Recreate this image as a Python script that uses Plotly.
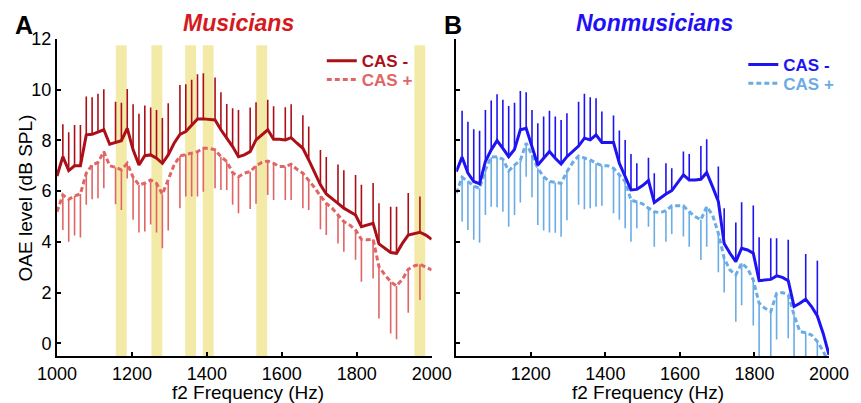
import numpy as np
import plotly.graph_objects as go

# ---------------- data ----------------
freq = np.linspace(1000, 2000, 65)          # f2 frequency grid (Hz)
x_ticks = [1000, 1200, 1400, 1600, 1800, 2000]
x_labels_a = ["1000", "1200", "1400", "1600", "1800", "2000"]
x_labels_b = ["", "1200", "1400", "1600", "1800", "2000"]
y_ticks = [0, 2, 4, 6, 8, 10, 12]

# Musicians, CAS - (mean) and upper end of its error bar
mus_minus = [6.6, 7.36, 6.81, 7.0, 7.0, 8.22, 8.24, 8.34, 8.42, 7.85, 7.92, 7.99, 8.48, 7.63, 7.03, 7.40,
             7.43, 7.30, 7.10, 7.43, 7.89, 8.24, 8.35, 8.61, 8.85, 8.85, 8.84, 8.81, 8.42, 8.09, 7.76, 7.36,
             7.43, 7.56, 8.02, 8.22, 8.42, 8.05, 8.05, 8.02, 8.11, 7.89, 7.69, 7.23, 6.71, 6.25, 5.89, 5.72,
             5.52, 5.33, 5.19, 5.06, 4.60, 4.67, 4.73, 3.92, 3.75, 3.58, 3.55, 3.94, 4.27, 4.34, 4.38, 4.27,
             4.10]
mus_minus_top = [None, 8.64, 8.32, 8.61, 8.61, 9.73, 9.70, 9.84, 10.02, None, 9.53, 9.49, 10.03, 9.43, 9.05, 9.38,
                 9.30, 9.20, 8.88, 9.47, None, 10.19, 10.22, 10.39, 10.61, 10.65, None, 10.48, 9.90, 9.44, 9.27, 9.20,
                 None, 9.30, 9.51, None, 9.60, 9.35, None, 9.31, 9.43, None, 8.99, 8.55, None, 7.62, 7.35, None,
                 7.05, 6.82, None, 6.64, 6.25, None, 6.32, 5.52, None, 5.39, 5.39, None, 5.93, None, 5.79, None,
                 None]

# Musicians, CAS + (mean) and lower end of its error bar
mus_plus = [5.19, 5.85, 5.68, 5.81, 5.89, 6.71, 7.03, 7.13, 7.56, 7.0, 6.94, 6.84, 7.1, 6.55, 6.25, 6.31,
            6.44, 6.31, 5.88, 6.44, 7.03, 7.39, 7.46, 7.50, 7.56, 7.69, 7.69, 7.63, 7.36, 7.17, 6.73, 6.57,
            6.71, 6.77, 7.0, 7.13, 7.19, 7.10, 6.97, 6.97, 7.06, 6.86, 6.71, 6.44, 6.14, 5.81, 5.52, 5.33,
            5.06, 4.80, 4.67, 4.47, 4.10, 4.08, 4.10, 3.02, 2.70, 2.43, 2.26, 2.52, 2.92, 3.05, 3.12, 3.02,
            2.89]
mus_plus_bot = [None, 4.47, 4.01, 4.25, 4.17, 5.46, 5.68, 5.72, 6.11, None, 5.48, 5.26, 6.5, 4.87, 4.37, 4.41,
                4.69, 4.37, 3.75, 4.45, None, 5.33, 5.79, 5.79, 5.79, 5.98, None, 6.11, 6.05, 6.05, 5.46, 5.13,
                None, 5.3, 5.5, None, 5.85, 5.65, None, 5.65, 5.65, None, 5.33, 5.26, None, 4.5, 4.27, None,
                3.94, 3.61, None, 3.3, 2.43, None, 2.56, 0.98, None, 0.39, 0.16, None, 1.21, None, 1.71, None,
                None]

# Nonmusicians, CAS - (mean) and upper end of its error bar
non_minus = [6.77, 7.34, 6.71, 6.38, 6.29, 7.17, 7.63, 7.99, 7.69, 7.36, 7.65, 8.42, 8.48, 7.76, 7.03, 7.30,
             7.56, 7.30, 7.07, 7.36, 7.59, 7.78, 8.09, 8.02, 8.22, 7.92, 7.92, 7.92, 7.1, 6.57, 6.05, 6.07,
             6.22, 6.42, 5.55, 5.72, 5.89, 6.02, 6.34, 6.64, 6.44, 6.44, 6.47, 6.73, 6.18, 5.59, 3.94, 3.55,
             3.22, 3.75, 3.68, 3.55, 2.47, 2.50, 2.52, 2.66, 2.60, 2.47, 1.45, 1.58, 1.74, 1.45, 1.08, 0.39,
             -0.45]
non_minus_top = [None, 9.17, 8.74, 8.44, 8.38, 9.20, 9.57, 9.82, 9.60, 9.36, 9.49, 9.95, 9.90, 9.20, 8.68, 8.94,
                 9.17, 8.94, 8.81, 9.07, None, 9.53, 9.84, 9.70, 9.66, 9.14, None, 8.98, 8.39, 8.02, 7.47, 7.10,
                 None, 7.32, 6.71, None, 7.10, 6.90, None, 7.56, 7.47, None, 7.78, 8.05, None, 6.97, 5.33, None,
                 4.76, 5.56, None, 5.43, 4.18, None, 4.14, 4.14, None, 4.08, None, None, 3.52, None, 3.26, None,
                 None]

# Nonmusicians, CAS + (mean) and lower end of its error bar
non_plus = [5.92, 6.55, 6.38, 6.21, 6.11, 6.84, 7.34, 7.36, 7.26, 6.80, 7.03, 7.21, 7.89, 7.43, 6.90, 6.57,
            6.38, 6.34, 6.31, 6.77, 7.13, 7.39, 7.30, 7.23, 7.10, 7.01, 7.0, 6.90, 6.64, 6.38, 5.65, 5.59,
            5.50, 5.33, 5.19, 5.15, 5.23, 5.42, 5.43, 5.42, 5.19, 5.0, 4.87, 5.39, 5.06, 4.34, 3.35, 2.89,
            2.70, 3.16, 2.96, 2.50, 1.58, 1.38, 1.25, 1.97, 2.0, 1.91, 1.12, 0.46, 0.42, 0.33, 0.07, -0.30,
            -0.8]
non_plus_bot = [None, 4.80, 4.47, 4.08, 3.97, 5.06, 5.39, 5.37, 5.19, 4.60, 5.06, 5.55, 6.57, 5.76, 4.67, 4.45,
                4.37, 4.36, 4.2, 4.85, None, 5.46, 5.29, 5.33, 5.39, 5.42, None, 5.13, 4.87, 4.54, 4.01, 4.54,
                None, 4.60, 3.81, None, 4.01, 4.31, None, 4.21, 3.81, None, 3.29, 3.81, None, 2.8, 2.0, None,
                0.85, 1.5, None, 0.7, -0.6, None, -0.6, 0.15, None, 0.2, -0.6, None, -0.6, None, -0.6, None,
                None]

# highlighted frequency bands in panel A (Hz)
band_lo = [1157, 1252, 1342, 1389, 1532, 1954]
band_hi = [1186, 1281, 1371, 1418, 1561, 1983]
band_top = 11.75

# ---------------- style ----------------
FONT = "Liberation Sans, Arial, sans-serif"
C_MUS_MINUS = "#ab1018"
C_MUS_PLUS = "#e06666"
C_NON_MINUS = "#1e14f2"
C_NON_PLUS = "#6aace6"
C_BAND = "#f4eaa8"
C_MUS_TITLE = "#d41a20"
C_NON_TITLE = "#1f10f5"
DASH = "5px,3px"

Y_MIN, Y_MAX = -0.5, 12


def up_err(top, mean):
    return [np.nan if t is None else t - m for t, m in zip(top, mean)]


def down_err(bot, mean):
    return [np.nan if b is None else m - b for b, m in zip(bot, mean)]


def zeros(n):
    return [0] * n


fig = go.Figure()

N = len(freq)


def add(xa, ya, mean, err_plus, err_minus, color, dash, name, legend):
    fig.add_trace(go.Scatter(
        x=freq, y=mean, mode="lines", name=name, legend=legend,
        xaxis=xa, yaxis=ya,
        line=dict(color=color, width=3, dash=dash),
        error_y=dict(type="data", symmetric=False, array=err_plus, arrayminus=err_minus,
                     color=color, thickness=1.6, width=0),
        showlegend=True,
    ))


add("x", "y", mus_plus, zeros(N), down_err(mus_plus_bot, mus_plus), C_MUS_PLUS, DASH, "CAS +", "legend2")
add("x", "y", mus_minus, up_err(mus_minus_top, mus_minus), zeros(N), C_MUS_MINUS, "solid", "CAS -", "legend")
add("x2", "y2", non_plus, zeros(N), down_err(non_plus_bot, non_plus), C_NON_PLUS, DASH, "CAS +", "legend4")
add("x2", "y2", non_minus, up_err(non_minus_top, non_minus), zeros(N), C_NON_MINUS, "solid", "CAS -", "legend3")

shapes = []
for lo, hi in zip(band_lo, band_hi):
    shapes.append(dict(type="rect", xref="x", yref="y", x0=lo, x1=hi, y0=Y_MIN, y1=band_top,
                       fillcolor=C_BAND, line=dict(width=0), layer="below"))

axis_common = dict(showline=True, linewidth=2, linecolor="black", ticks="inside", ticklen=4,
                   tickwidth=1.5, tickcolor="black", showgrid=False, zeroline=False,
                   tickfont=dict(family=FONT, size=18, color="black"))

XA_DOM = [0.0, 0.4853]
XB_DOM = [0.5172, 1.0]


def legend_box(x, y, color):
    return dict(x=x, y=y, xanchor="left", yanchor="middle", bgcolor="rgba(0,0,0,0)",
                borderwidth=0, itemwidth=30, tracegroupgap=0,
                font=dict(family=FONT, size=17, color=color, weight="bold"))


# the page body has an 8px default margin, so the figure is 8px smaller on each side
fig.update_layout(
    width=853, height=395,
    margin=dict(l=49, r=21, t=31, b=47),
    plot_bgcolor="white", paper_bgcolor="white",
    font=dict(family=FONT, size=18, color="black"),
    shapes=shapes,
    xaxis=dict(domain=XA_DOM, anchor="y", range=[1000, 2000], tickvals=x_ticks, ticktext=x_labels_a,
               **axis_common),
    yaxis=dict(domain=[0, 1], anchor="x", range=[Y_MIN, Y_MAX], tickvals=y_ticks, **axis_common),
    xaxis2=dict(domain=XB_DOM, anchor="y2", range=[1000, 2000], tickvals=x_ticks, ticktext=x_labels_b,
                **axis_common),
    yaxis2=dict(domain=[0, 1], anchor="x2", range=[Y_MIN, Y_MAX], tickvals=y_ticks,
                showticklabels=False, **axis_common),
    legend=legend_box(0.343, 0.930, C_MUS_MINUS),
    legend2=legend_box(0.343, 0.871, C_MUS_PLUS),
    legend3=legend_box(0.889, 0.918, C_NON_MINUS),
    legend4=legend_box(0.889, 0.859, C_NON_PLUS),
)

annotations = [
    dict(text="<b>A</b>", x=-0.0430, y=1.096, yanchor="top", font=dict(size=25, color="black")),
    dict(text="<b>B</b>", x=0.5125, y=1.096, yanchor="top", font=dict(size=25, color="black")),
    dict(text="<b><i>Musicians</i></b>", x=0.2356, y=1.052, font=dict(size=23, color=C_MUS_TITLE)),
    dict(text="<b><i>Nonmusicians</i></b>", x=0.774, y=1.052, font=dict(size=23, color=C_NON_TITLE)),
    dict(text="f2 Frequency (Hz)", x=(XA_DOM[0] + XA_DOM[1]) / 2 + 0.005, y=-0.1136, font=dict(size=19)),
    dict(text="f2 Frequency (Hz)", x=(XB_DOM[0] + XB_DOM[1]) / 2 + 0.007, y=-0.1136, font=dict(size=19)),
    dict(text="OAE level (dB SPL)", x=-0.0402, y=0.5, textangle=-90, font=dict(size=19)),
]
for a in annotations:
    a.setdefault("yanchor", "middle")
    a.update(xref="paper", yref="paper", showarrow=False, xanchor="center")
    a["font"].update(family=FONT)
fig.update_layout(annotations=annotations)

fig.write_html("out.html")
